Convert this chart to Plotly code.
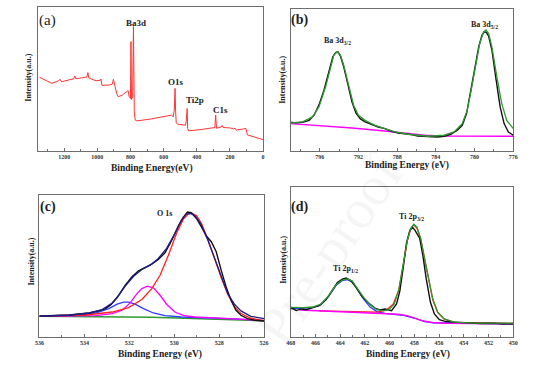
import plotly.graph_objects as go

# ---------------- (a) survey ----------------
a_ev = [1348, 1314, 1275, 1235, 1225, 1215, 1166, 1142, 1136, 1130, 1087, 1063, 1057, 1051,
        1008, 982, 978, 972, 929, 909, 903, 895, 883, 874, 850, 824, 814, 808, 800, 797, 794,
        787, 782, 777, 771, 761, 672, 553, 542, 536, 531, 528, 524, 514, 468, 464, 461, 458,
        455, 449, 375, 291, 286, 281, 253, 247, 241, 198, 178, 168, 162, 154, 119, 103, 95,
        59, 30, 0]
a_int = [51.2, 49.3, 47.0, 48.6, 49.8, 48.1, 49.8, 50.2, 52.1, 50.2, 50.9, 51.4, 54.4, 50.7,
         48.8, 49.1, 50.0, 45.6, 45.8, 46.5, 49.8, 45.1, 40.0, 37.7, 38.8, 41.2, 41.9, 37.7, 36.5, 76.0, 35.8,
         37.7, 86.5, 27.2, 21.4, 20.9, 22.3, 24.9, 23.7, 28.4, 43.5, 28.4, 19.5, 18.6, 17.9, 20.2, 26.0, 29.5,
         15.6, 14.0, 14.9, 16.3, 24.9, 15.8, 16.7, 17.7, 16.3, 16.0, 15.3, 15.8, 14.4, 14.7, 15.3, 15.6, 11.2,
         9.8, 8.8, 7.9]

# ---------------- (b) Ba 3d ----------------
b_ev_data = [799.03, 798.45, 797.77, 797.09, 796.58, 796.07, 795.56, 795.05, 794.64, 794.37, 794.13,
             793.86, 793.52, 793.07, 792.67, 792.26, 791.82, 791.31, 790.63, 789.95, 789.27, 788.59,
             787.90, 787.22, 786.54, 785.86, 785.18, 784.50, 783.82, 783.14, 782.46, 781.78, 781.27,
             780.83, 780.42, 780.01, 779.57, 779.23, 778.99, 778.79, 778.55, 778.21, 777.77, 777.36,
             776.95, 776.51, 776.0]
b_int_data = [20.2, 19.8, 20.2, 21.6, 25.2, 32.5, 42.8, 55.8, 66.4, 69.2, 69.9, 66.8, 59.3, 46.4,
              34.6, 26.8, 22.8, 20.5, 18.8, 16.9, 15.8, 13.9, 12.7, 12.2, 11.5, 10.6, 10.4, 9.9, 9.9,
              10.4, 11.8, 14.6, 18.1, 26.4, 40.5, 56.9, 73.4, 81.6, 84.0, 83.5, 80.9, 71.1, 49.9, 31.1,
              19.3, 13.4, 11.1]
b_ev_fit = [799.03, 797.77, 796.75, 796.07, 795.39, 794.88, 794.54, 794.20, 793.86, 793.52, 793.01,
            792.50, 791.99, 791.31, 790.29, 789.27, 788.24, 786.88, 784.84, 783.14, 782.12, 781.27,
            780.76, 780.35, 779.91, 779.47, 779.06, 778.82, 778.55, 778.21, 777.70, 777.19, 776.68, 776.0]
b_int_fit = [19.8, 20.5, 24.0, 31.1, 45.2, 59.3, 67.5, 69.9, 67.5, 60.5, 45.2, 32.2, 25.2, 21.6,
             18.1, 15.8, 13.4, 11.8, 10.4, 11.1, 13.4, 19.3, 28.7, 42.8, 59.3, 75.8, 84.0, 85.2, 82.8,
             73.4, 52.2, 33.4, 21.6, 15.8]
b_ev_bg = [799.03, 796.07, 792.67, 789.27, 786.88, 785.18, 783.48, 776.0]
b_int_bg = [19.3, 17.9, 16.2, 14.1, 12.2, 11.1, 10.6, 10.4]

# ---------------- (c) O 1s ----------------
c_ev_data = [536.0, 535.56, 535.12, 534.68, 534.24, 533.79, 533.35, 533.06, 532.84, 532.54, 532.18,
             531.88, 531.59, 531.29, 531.0, 530.71, 530.41, 530.12, 529.82, 529.60, 529.41, 529.24,
             529.01, 528.79, 528.57, 528.35, 528.13, 527.91, 527.69, 527.47, 527.25, 527.03, 526.74,
             526.44, 526.0]
c_int_data = [14.6, 15.1, 15.3, 15.5, 16.0, 16.9, 18.4, 20.0, 22.4, 27.8, 36.5, 42.4, 46.6, 48.9,
              51.3, 54.6, 59.3, 67.8, 78.1, 84.2, 88.0, 87.5, 83.5, 77.6, 71.1, 67.1, 60.0, 47.1, 35.3,
              25.9, 18.8, 15.3, 12.9, 11.8, 11.3]
c_ev_env = [536.0, 534.68, 533.79, 533.21, 532.76, 532.47, 532.18, 531.81, 531.44, 531.07, 530.71,
            530.34, 529.97, 529.68, 529.46, 529.26, 529.06, 528.79, 528.50, 528.21, 527.91, 527.62,
            527.32, 527.03, 526.59, 526.0]
c_int_env = [14.6, 15.3, 16.9, 19.3, 24.0, 29.4, 35.8, 42.8, 47.5, 50.6, 55.3, 62.4, 72.9, 82.4,
             86.6, 87.1, 85.2, 78.8, 68.2, 55.3, 42.4, 30.6, 23.1, 18.4, 14.6, 12.9]
c_ev_red = [536.0, 533.94, 532.76, 532.03, 531.44, 531.0, 530.63, 530.26, 529.90, 529.60, 529.38,
            529.21, 529.01, 528.79, 528.50, 528.21, 527.91, 527.62, 527.32, 527.03, 526.59, 526.0]
c_int_red = [14.6, 15.5, 17.6, 20.7, 26.4, 34.1, 43.5, 57.6, 72.9, 82.8, 86.6, 87.1, 85.6, 80.0,
             68.7, 55.3, 41.9, 30.1, 21.6, 16.5, 13.2, 11.5]
c_ev_mag = [536.0, 533.5, 532.76, 532.32, 531.96, 531.66, 531.44, 531.19, 530.93, 530.63, 530.34,
            529.97, 529.60, 529.09, 527.32, 526.0]
c_int_mag = [14.6, 15.1, 16.5, 18.8, 24.0, 30.6, 34.1, 35.8, 34.6, 29.4, 23.1, 17.6, 15.3, 14.1, 12.7, 11.5]
c_ev_blue = [536.0, 534.24, 533.5, 532.91, 532.54, 532.25, 532.03, 531.74, 531.37, 530.93, 530.41,
             529.68, 527.32, 526.0]
c_int_blue = [14.6, 15.3, 16.9, 20.0, 23.1, 24.5, 24.5, 23.1, 20.0, 16.9, 15.1, 14.1, 12.7, 11.5]
c_ev_bg = [536.0, 533.21, 531.0, 529.53, 528.06, 526.0]
c_int_bg = [14.6, 14.4, 13.9, 13.2, 12.2, 11.3]

# ---------------- (d) Ti 2p ----------------
d_ev_data = [468.0, 467.55, 467.15, 466.75, 466.22, 465.69, 465.15, 464.62, 464.22, 463.82, 463.51,
             463.16, 462.76, 462.23, 461.70, 461.16, 460.77, 460.37, 459.84, 459.44, 459.17, 458.90,
             458.64, 458.37, 458.16, 457.97, 457.79, 457.57, 457.31, 457.04, 456.70, 456.38, 455.98,
             455.45, 454.78, 453.72, 452.65, 451.59, 450.79, 450.0]
d_int_data = [19.8, 17.6, 18.7, 18.2, 19.6, 20.9, 24.8, 31.9, 36.3, 38.5, 39.3, 37.8, 33.6, 27.0,
              22.6, 19.1, 18.0, 18.7, 17.6, 22.0, 30.8, 46.2, 62.6, 71.0, 73.2, 71.4, 69.2, 65.9, 54.3,
              38.9, 23.1, 15.4, 11.6, 10.3, 9.9, 9.5, 9.0, 9.2, 8.6, 8.8]
d_ev_fit = [468.0, 467.02, 466.22, 465.55, 464.89, 464.36, 463.82, 463.43, 463.03, 462.63, 462.10,
            461.56, 461.03, 460.50, 460.05, 459.62, 459.25, 458.90, 458.56, 458.29, 458.05, 457.79,
            457.49, 457.18, 456.86, 456.51, 456.11, 455.58, 454.78, 453.18, 450.0]
d_int_fit = [19.8, 19.6, 20.0, 22.0, 27.9, 34.5, 38.0, 38.7, 37.4, 33.0, 26.4, 21.3, 18.2, 17.4,
             18.2, 22.0, 31.9, 48.4, 64.8, 72.5, 75.2, 73.2, 65.9, 52.7, 38.5, 25.3, 16.5, 12.1, 9.9, 9.2, 9.2]
d_ev_red = [465.69, 463.82, 461.96, 461.0, 460.24, 459.70, 459.25, 458.90, 458.56, 458.29, 458.05,
            457.79, 457.49, 457.18, 456.86, 456.51, 456.11, 455.58, 454.78, 450.0]
d_int_red = [17.4, 16.9, 16.4, 16.6, 18.0, 22.0, 31.4, 47.9, 64.4, 72.1, 74.7, 72.7, 65.5, 52.3,
             38.0, 24.8, 16.3, 11.9, 9.7, 9.0]
d_ev_blue = [468.0, 466.22, 465.55, 464.89, 464.36, 463.82, 463.43, 463.03, 462.63, 462.10, 461.56,
             461.03, 460.37, 459.57, 458.77, 457.97, 457.18, 456.38, 450.0]
d_int_blue = [18.7, 19.6, 21.5, 27.5, 34.1, 37.6, 38.2, 36.9, 32.3, 25.3, 19.8, 16.9, 15.8, 15.2,
              14.3, 12.5, 10.3, 9.5, 8.8]
d_ev_bg = [467.28, 465.69, 463.82, 461.96, 460.37, 459.30, 458.51, 457.84, 457.31, 456.64, 455.58, 450.0]
d_int_bg = [18.0, 17.4, 16.9, 16.3, 15.6, 15.2, 14.1, 12.3, 10.8, 9.7, 9.2, 8.8]

FONT = "Times New Roman, Liberation Serif, serif"
W, H = 537, 376
AX = "#6e6e6e"


def px(x):
    return x / W


def py(y):
    return 1 - y / H


fig = go.Figure()


def line(x, y, color, ax, width=1.2):
    fig.add_trace(go.Scatter(x=x, y=y, mode="lines", line=dict(color=color, width=width),
                             xaxis="x" + ax, yaxis="y" + ax, showlegend=False, hoverinfo="skip"))


# panel a
line(a_ev, a_int, "#ff3333", "", 1.0)
# panel b
line(b_ev_bg, b_int_bg, "#ff00ff", "2", 1.4)
line(b_ev_data, b_int_data, "#111111", "2", 1.4)
line(b_ev_fit, b_int_fit, "#2f9a2f", "2", 1.3)
# panel c
line(c_ev_bg, c_int_bg, "#2f9a2f", "3", 1.3)
line(c_ev_blue, c_int_blue, "#2a3cff", "3", 1.3)
line(c_ev_mag, c_int_mag, "#ff00ff", "3", 1.3)
line(c_ev_red, c_int_red, "#ff2020", "3", 1.3)
line(c_ev_data, c_int_data, "#111111", "3", 1.4)
line(c_ev_env, c_int_env, "#1c1c8a", "3", 1.3)
# panel d
line(d_ev_blue, d_int_blue, "#2a3cff", "4", 1.3)
line(d_ev_red, d_int_red, "#ff2020", "4", 1.3)
line(d_ev_bg, d_int_bg, "#ff00ff", "4", 1.4)
line(d_ev_data, d_int_data, "#111111", "4", 1.4)
line(d_ev_fit, d_int_fit, "#2f9a2f", "4", 1.3)


def xax(dom_px, y_anchor, rng, dtick, minor):
    return dict(domain=[px(dom_px[0]), px(dom_px[1])], anchor=y_anchor, range=rng,
                showline=True, linecolor=AX, linewidth=1, mirror=True, showgrid=False, zeroline=False,
                ticks="inside", ticklen=3, tickcolor=AX, tickwidth=1, dtick=dtick, tick0=0,
                minor=dict(ticks="inside", ticklen=2, dtick=minor, tick0=0, tickcolor=AX),
                tickfont=dict(family=FONT, size=6, color="#333", weight="bold"))


def yax(dom_py, x_anchor):
    return dict(domain=[py(dom_py[1]), py(dom_py[0])], anchor=x_anchor, range=[0, 100],
                showline=True, linecolor=AX, linewidth=1, mirror=True, showgrid=False, zeroline=False,
                showticklabels=False, ticks="")


fig.update_layout(
    width=W, height=H, margin=dict(l=0, r=0, t=0, b=0),
    paper_bgcolor="white", plot_bgcolor="white",
    xaxis=xax([35, 263], "y", [1355, 0], 200, 100),
    yaxis=yax([7, 151], "x"),
    xaxis2=xax([291, 517], "y2", [799, 776], 4, 2),
    yaxis2=yax([9, 151], "x2"),
    xaxis3=xax([36, 264], "y3", [536, 526], 2, 1),
    yaxis3=yax([195, 337], "x3"),
    xaxis4=xax([291, 517], "y4", [468, 450], 2, 1),
    yaxis4=yax([187, 337], "x4"),
)


def ann(text, x, y, size=9, bold=True, angle=0, color="#222"):
    fig.add_annotation(text=text, x=px(x), y=py(y), xref="paper", yref="paper",
                       showarrow=False, textangle=angle, xanchor="center", yanchor="middle",
                       font=dict(family=FONT, size=size, color=color, weight="bold" if bold else "normal"))


# faint watermark
ann("Pre-proof", 330, 250, 56, bold=False, angle=-56, color="rgba(0,0,0,0.04)")
# panel labels
ann("(a)", 44, 21, 15, bold=False)
ann("(b)", 300, 20, 14)
ann("(c)", 45, 207, 14)
ann("(d)", 300, 207, 14)
# peak labels
ann("Ba3d", 134, 22.5, 9)
ann("O1s", 174.5, 82, 9)
ann("Ti2p", 193.5, 100.5, 9)
ann("C1s", 219.5, 109.5, 9)
ann("Ba 3d<sub>3/2</sub>", 339, 41, 8)
ann("Ba 3d<sub>5/2</sub>", 488, 25, 8)
ann("O 1s", 163, 213, 8)
ann("Ti 2p<sub>3/2</sub>", 414, 217, 8)
ann("Ti 2p<sub>1/2</sub>", 347, 269, 8)
# axis titles
ann("Intensity(a.u.)", 25, 78, 8, angle=-90)
ann("Intensity(a.u.)", 283, 80, 8, angle=-90)
ann("Intensity(a.u.)", 27, 262, 8, angle=-90)
ann("Intensity(a.u.)", 283, 260, 8, angle=-90)
ann("Binding Energy(eV)", 150, 168, 9.5)
ann("Binding Energy (eV)", 409, 166, 9.5)
ann("Binding Energy (eV)", 158, 354, 9.5)
ann("Binding Energy (eV)", 410, 354, 9.5)

fig.write_html("out.html", config={"displayModeBar": False},
               post_script="document.body.style.margin='0';document.body.style.padding='0';"
                           "document.body.style.overflow='hidden';")
